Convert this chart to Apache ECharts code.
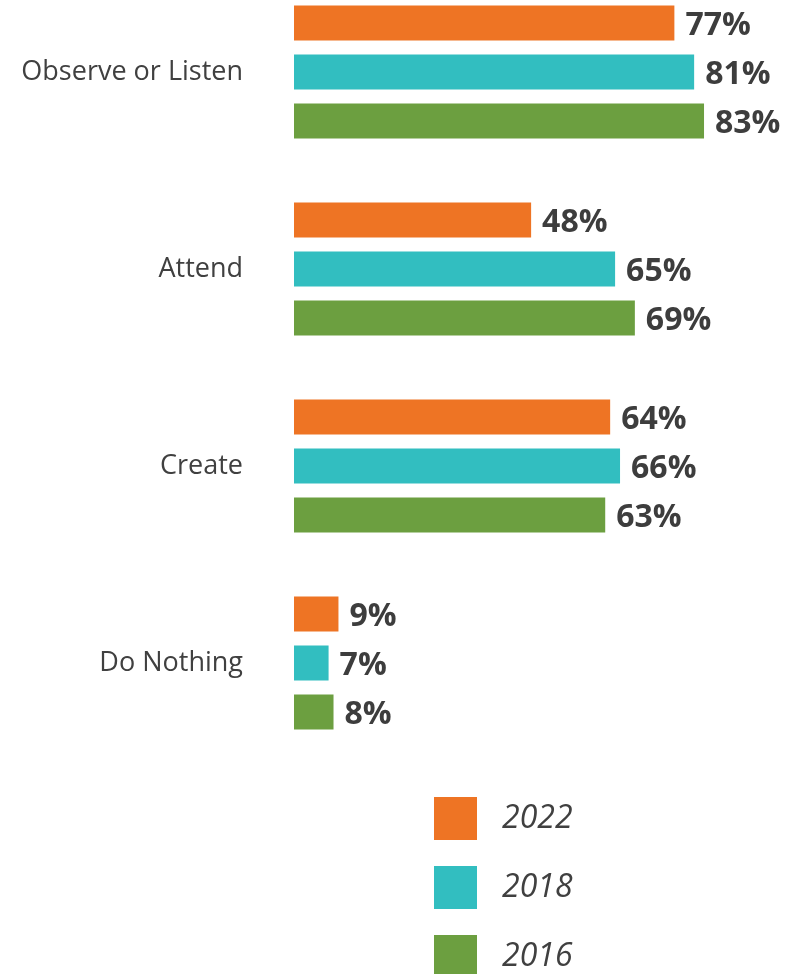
<!DOCTYPE html>
<html>
<head>
<meta charset="utf-8">
<script src="https://cdn.jsdelivr.net/npm/echarts@6/dist/echarts.min.js"></script>
<style>
  html, body { margin: 0; padding: 0; background: #ffffff; }
  #chart { width: 802px; height: 974px; }
</style>
</head>
<body>
<div id="chart"></div>
<script>
// Activity categories, top to bottom
const categories = ['Observe or Listen', 'Attend', 'Create', 'Do Nothing'];

// Share of respondents (%) per survey year
const years = ['2022', '2018', '2016'];
const values2022 = [77, 48, 64, 9];
const values2018 = [81, 65, 66, 7];
const values2016 = [83, 69, 63, 8];

const colors = ['#EE7424', '#32BEC0', '#6C9F40'];
const seriesValues = [values2022, values2018, values2016];

const chart = echarts.init(document.getElementById('chart'));

chart.setOption({
  animation: false,
  textStyle: { fontFamily: 'Open Sans' },
  grid: {
    left: 294, right: 14, top: -26.5, height: 788,
    containLabel: false,
    outerBoundsMode: 'none'
  },
  xAxis: {
    type: 'value',
    min: 0,
    max: 100,
    show: false
  },
  yAxis: {
    type: 'category',
    data: categories,
    inverse: true,
    axisLine: { show: false },
    axisTick: { show: false },
    splitLine: { show: false },
    axisLabel: {
      margin: 51,
      fontSize: 27,
      color: '#404040',
      fontFamily: 'Open Sans',
      lineHeight: 34,
      padding: [6, 0, 0, 0]
    }
  },
  legend: {
    orient: 'vertical',
    left: 434,
    top: 797,
    height: 220,
    padding: 0,
    itemWidth: 43,
    itemHeight: 43,
    itemGap: 26,
    icon: 'rect',
    data: years,
    textStyle: {
      fontSize: 32,
      fontStyle: 'italic',
      color: '#404040',
      fontFamily: 'Open Sans',
      padding: [0, 0, 0, 20]
    }
  },
  series: years.map((y, i) => ({
    name: y,
    type: 'bar',
    data: seriesValues[i],
    barWidth: 35,
    barGap: '40%',
    itemStyle: { color: colors[i] },
    label: {
      show: true,
      position: 'right',
      distance: 11,
      offset: [0, 3],
      formatter: '{c}%',
      fontSize: 32,
      fontWeight: 'bold',
      color: '#3d3d3d',
      fontFamily: 'Open Sans'
    }
  }))
});
</script>
</body>
</html>
